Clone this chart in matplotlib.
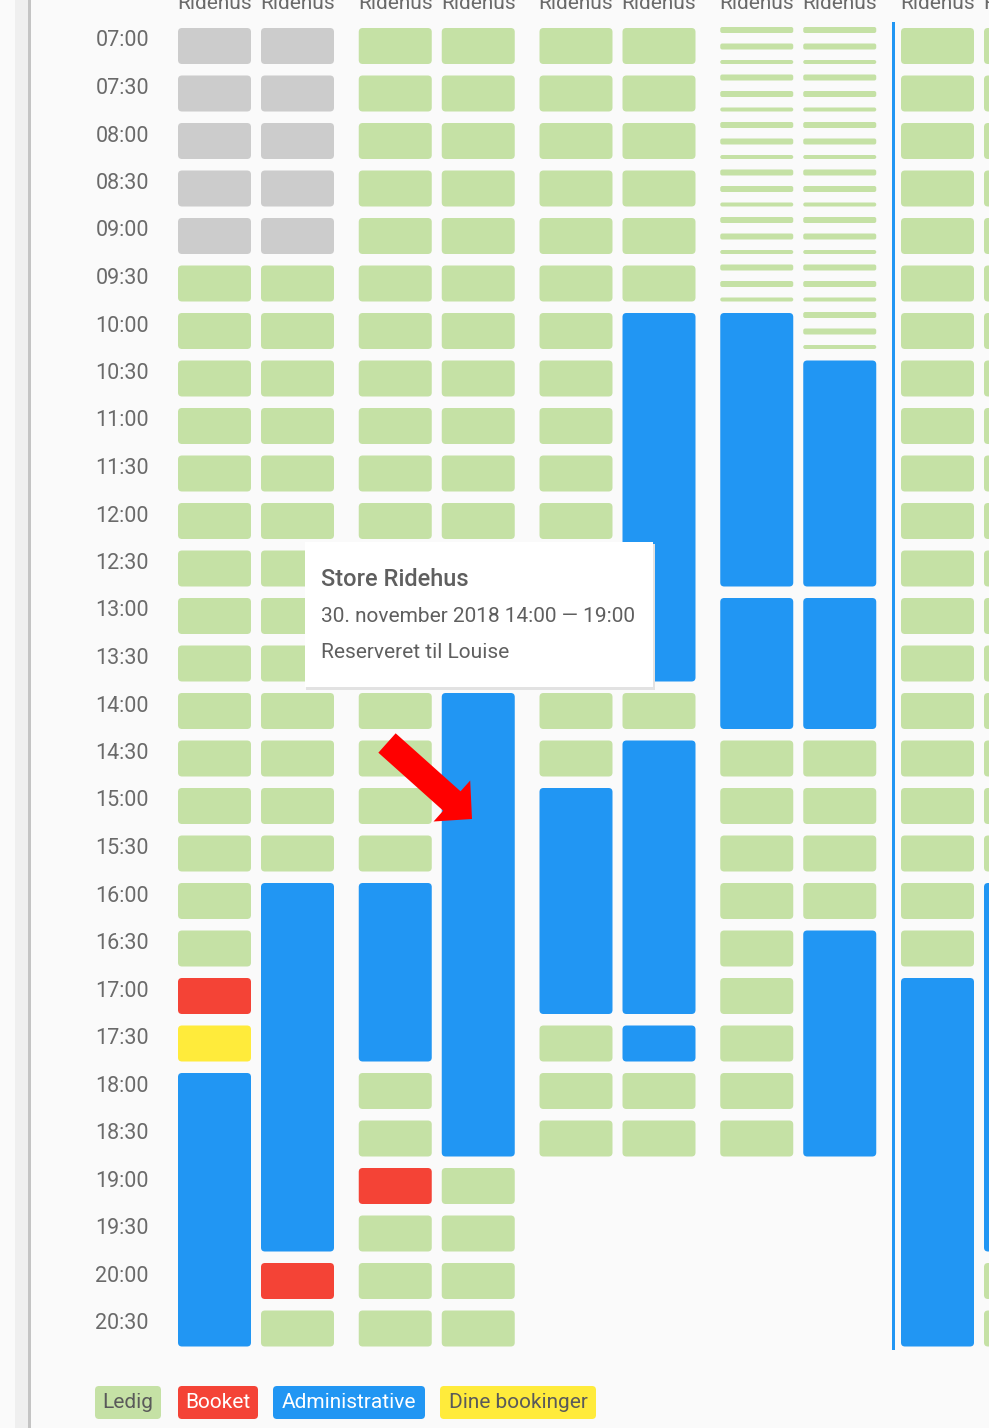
import matplotlib
matplotlib.use("Agg")
import matplotlib.pyplot as plt
from matplotlib.patches import FancyBboxPatch, Rectangle, FancyArrow

plt.rcParams['font.family'] = ['Roboto', 'DejaVu Sans']

# tidspunkter (halve timer fra 07:00 til 20:30)
slot_labels = [f"{7 + i // 2:02d}:{(i % 2) * 30:02d}" for i in range(28)]
slot_hours = [7 + i * 0.5 for i in range(28)]

column_names = ["Ridehus"] * 10

# x = lukket, g = ledig, s = ledig (stribet), r = booket, y = dine bookinger
# B = start paa administrativ booking, b = fortsaettelse, . = intet
columns = [
    "xxxxx" + "g" * 15 + "r" + "y" + "Bbbbbb",
    "xxxxx" + "g" * 13 + "Bbbbbbbb" + "r" + "g",
    "g" * 18 + "Bbbb" + "gg" + "r" + "ggg",
    "g" * 14 + "Bbbbbbbbbb" + "gggg",
    "g" * 16 + "Bbbbb" + "ggg" + "....",
    "g" * 6 + "Bbbbbbbb" + "g" + "Bbbbbb" + "B" + "gg" + "....",
    "s" * 6 + "Bbbbbb" + "Bbb" + "g" * 9 + "....",
    "s" * 7 + "Bbbbb" + "Bbb" + "gggg" + "Bbbbb" + "....",
    "g" * 20 + "Bbbbbbbb",
    "g" * 18 + "Bbbbbbbb" + "gg",
]

legend_labels = ["Ledig", "Booket", "Administrative", "Dine bookinger"]

tooltip_title = "Store Ridehus"
tooltip_lines = ["30. november 2018 14:00 \u2014 19:00", "Reserveret til Louise"]

GREEN = "#c5e1a5"
GRAY = "#cccccc"
BLUE = "#2196f3"
RED = "#f44336"
YELLOW = "#ffeb3b"
BG = "#fafafa"
colors = {"x": GRAY, "g": GREEN, "r": RED, "y": YELLOW, "B": BLUE}

W, H = 989, 1428
PX = 95.0                      # pixels pr. time
top_hour = 7 - 28 / PX
bottom_hour = 7 + (H - 28) / PX
cell_h = 36 / PX
col_w = 73
col_x = [178 + 180.75 * (c // 2) + 83 * (c % 2) for c in range(10)]

fig = plt.figure(figsize=(W / 100, H / 100), dpi=100, facecolor=BG)
ax = fig.add_axes([0, 0, 1, 1])
ax.set_xlim(0, W)
ax.set_ylim(bottom_hour, top_hour)
ax.axis("off")
ax.set_facecolor("none")


def cell(x, y, w, h, color, r=4):
    p = FancyBboxPatch((x, y), w, h, boxstyle=f"round,pad=0,rounding_size={r}",
                       mutation_aspect=1 / PX, fc=color, ec="none")
    ax.add_patch(p)


for c, states in enumerate(columns):
    x = col_x[c]
    i = 0
    while i < len(states):
        s = states[i]
        if s == "B":
            j = i
            while j + 1 < len(states) and states[j + 1] == "b":
                j += 1
            cell(x, slot_hours[i], col_w, slot_hours[j] - slot_hours[i] + cell_h, BLUE)
            i = j + 1
            continue
        if s == "s":
            # delvist ledig: tre tynde striber
            for off, hh in [(-1, 6), (15.5, 6), (32, 4)]:
                cell(x, slot_hours[i] + off / PX, col_w, hh / PX, GREEN, r=2)
        elif s in colors:
            cell(x, slot_hours[i], col_w, cell_h, colors[s])
        i += 1

for h, lab in zip(slot_hours, slot_labels):
    ax.text(149, h + 13 / PX, lab, ha="right", va="center", fontsize=15.5, color="#6a6a6a")

# overlay i pixels
ov = fig.add_axes([0, 0, 1, 1])
ov.set_xlim(0, W)
ov.set_ylim(H, 0)
ov.axis("off")
ov.set_facecolor("none")

# venstre kant
ov.add_patch(Rectangle((15, 0), 13, H, fc="#efefef", ec="none"))
ov.add_patch(Rectangle((28, 0), 3, H, fc="#c4c4c4", ec="none"))

# kolonne overskrifter (delvist skaaret af, som i skaermbilledet)
for x, name in zip(col_x, column_names):
    ov.text(x + col_w / 2, 9, name, ha="center", va="baseline", fontsize=15, color="#6a6a6a")

# blaa linje (nu)
ov.add_patch(Rectangle((891.5, 22), 3, 1328, fc=BLUE, ec="none"))

# tooltip
ov.add_patch(Rectangle((306, 544), 349, 146, fc="#e2e2e2", ec="none", zorder=5))
ov.add_patch(Rectangle((305, 542), 348, 145, fc="white", ec="none", zorder=6))
ov.text(321, 579, tooltip_title, ha="left", va="center", fontsize=17,
        fontweight="medium", color="#5f5f5f", zorder=7)
for k, line in enumerate(tooltip_lines):
    ov.text(321, 617 + 36 * k, line, ha="left", va="center", fontsize=15,
            color="#5f5f5f", zorder=7)

# roed pil
ov.add_patch(FancyArrow(387, 743, 85, 76, width=26, head_width=55, head_length=27,
                        length_includes_head=True, fc="#ff0000", ec="none", zorder=8))

# forklaring
legend_boxes = [(95, 66, GREEN, "#5a5a5a"), (178, 80, RED, "white"),
                (273, 152, BLUE, "white"), (440, 156, YELLOW, "#5a5a5a")]
for lab, (x0, w, fc, tc) in zip(legend_labels, legend_boxes):
    ov.add_patch(FancyBboxPatch((x0, 1386), w, 33, boxstyle="round,pad=0,rounding_size=4",
                                fc=fc, ec="none"))
    ov.text(x0 + w / 2, 1402, lab, ha="center", va="center", fontsize=15, color=tc)

fig.savefig("out.png", dpi=100, facecolor=BG)
